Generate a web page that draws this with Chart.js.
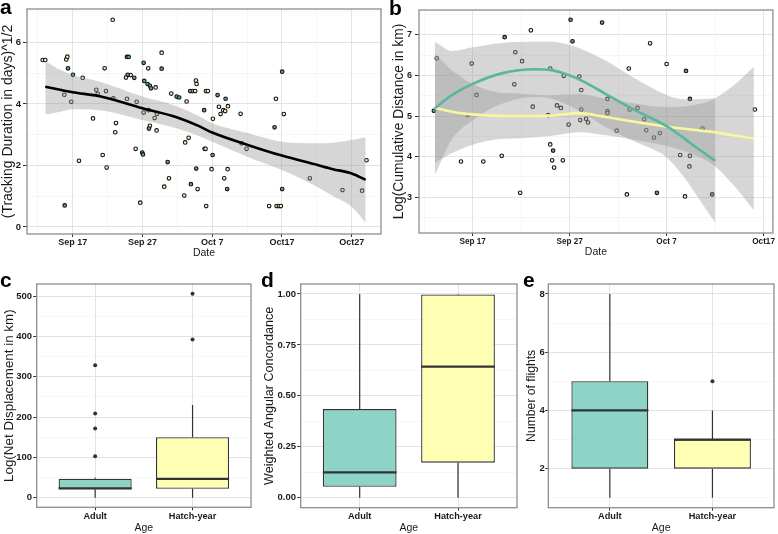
<!DOCTYPE html>
<html>
<head>
<meta charset="utf-8">
<script src="https://cdn.jsdelivr.net/npm/chart.js@4.4.0/dist/chart.umd.min.js"></script>
<style>
body { margin: 0; background: #fff; }
#wrap { position: relative; width: 778px; height: 534px; overflow: hidden; font-family: "Liberation Sans", Arial, sans-serif; }
canvas { position: absolute; }
.tag { position: absolute; font-weight: bold; font-size: 21px; line-height: 21px; color: #000; }
</style>
</head>
<body>
<div id="wrap">
  <canvas id="pa" width="388" height="262" style="left:0;top:0"></canvas>
  <canvas id="pb" width="390" height="262" style="left:388px;top:0"></canvas>
  <canvas id="pc" width="258" height="272" style="left:0;top:262px"></canvas>
  <canvas id="pd" width="262" height="272" style="left:258px;top:262px"></canvas>
  <canvas id="pe" width="258" height="272" style="left:520px;top:262px"></canvas>
  <div class="tag" style="left:0;top:-4px">a</div>
  <div class="tag" style="left:389px;top:-3px">b</div>
  <div class="tag" style="left:0;top:269px">c</div>
  <div class="tag" style="left:261px;top:269px">d</div>
  <div class="tag" style="left:523px;top:269px">e</div>
</div>
<script>
// dates are day numbers counted from Sep 1 (Sep 30 = 30, Oct 7 = 37)

// panel a - tracking duration
var aAdult = [[15.85,0.70],[16.33,5.16],[17.04,4.95],[24.78,5.53],[25.02,5.53],[24.88,4.95],[25.83,4.85],
  [26.97,2.42],[27.07,2.36],[27.17,5.34],[27.26,4.75],[27.74,4.65],[27.93,3.20],[28.07,4.59],[28.22,4.51],
  [29.75,5.15],[30.61,2.11],[31.90,4.24],[32.27,4.21],[33.85,4.42],[33.95,1.39],[34.71,1.90],[35.85,3.80],
  [37.06,2.34],[37.77,4.29],[38.92,4.17],[39.15,1.23],[45.94,3.24],[47.03,5.05],[47.03,1.23]];
var aHatch = [[12.70,5.43],[13.07,5.43],[15.80,4.30],[16.08,5.45],[16.23,5.54],[16.80,4.07],[17.90,2.15],
  [18.43,4.85],[19.91,3.53],[20.38,4.46],[20.58,4.33],[21.30,2.34],[21.58,5.16],[21.77,4.42],[21.87,1.93],
  [22.73,6.74],[22.82,4.18],[23.10,3.08],[23.20,3.38],[24.64,4.86],[24.78,4.17],[25.31,4.94],[26.03,2.54],
  [26.17,4.07],[26.68,0.79],[27.17,3.72],[27.83,5.16],[27.89,3.80],[28.07,3.29],[28.75,3.54],[28.89,4.54],
  [29.03,3.14],[29.08,3.68],[29.75,5.67],[30.12,1.31],[30.80,1.58],[31.13,4.34],[32.99,1.02],[33.13,2.75],
  [33.33,4.08],[33.62,2.90],[34.19,4.42],[34.56,4.42],[34.66,4.76],[34.76,4.65],[34.91,1.23],[35.91,2.54],
  [36.05,2.54],[36.10,4.42],[36.38,4.42],[36.14,0.68],[36.91,1.88],[37.10,3.52],[37.96,3.91],[38.20,3.67],
  [38.58,3.80],[38.72,1.58],[38.86,3.77],[39.21,1.88],[39.25,3.93],[41.07,3.68],[41.21,2.72],[41.93,2.54],
  [45.17,0.68],[46.13,4.17],[46.23,0.68],[46.56,0.68],[46.84,0.68],[47.27,3.67],[51.00,1.58],[55.68,1.20],
  [58.49,1.18],[59.12,2.17]];
var aFitDays = [13.07, 15.2, 17, 20.9, 27, 31.9, 35.2, 37, 42.2, 47, 52, 54.3, 57, 59];
var aFit     = [4.56, 4.46, 4.38, 4.25, 3.86, 3.57, 3.27, 3.07, 2.66, 2.32, 2.02, 1.88, 1.74, 1.53];
var aFitHi   = [5.41, 5.11, 4.94, 4.72, 4.24, 3.93, 3.59, 3.37, 3.05, 2.77, 2.72, 2.74, 2.83, 2.92];
var aFitLo   = [3.66, 3.75, 3.83, 3.80, 3.48, 3.21, 2.95, 2.77, 2.27, 1.85, 1.31, 1.01, 0.66, 0.14];
var aXMajor = [17, 27, 37, 47, 57], aXMinor = [12, 22, 32, 42, 52];
var aXLabels = ['Sep 17', 'Sep 27', 'Oct 7', 'Oct17', 'Oct27'];
var aYMajor = [0, 2, 4, 6], aYMinor = [1, 3, 5, 7], aYLabels = ['0', '2', '4', '6'];

// panel b - cumulative distance
var bAdult = [[13.0,5.13],[20.3,6.94],[25.3,4.15],[27.1,7.37],[27.3,6.84],[30.35,7.30],[36.0,3.11],
  [39.0,6.11],[39.4,5.42],[41.7,3.07]];
var bHatch = [[13.3,6.42],[15.8,3.88],[16.5,5.03],[16.9,6.29],[17.4,5.52],[18.1,3.88],[20.0,4.02],[21.3,5.78],
  [21.4,6.57],[21.9,3.11],[22.1,6.35],[23.0,7.11],[23.2,5.23],[24.8,5.02],[25.0,6.17],[25.0,4.30],[25.2,3.91],
  [25.4,3.73],[25.7,5.26],[26.1,5.20],[26.3,3.91],[26.4,5.99],[26.9,4.79],[28.0,5.97],[28.1,4.90],[28.2,5.64],
  [28.2,5.16],[28.7,4.93],[28.9,4.84],[30.9,5.42],[30.9,5.12],[30.9,5.07],[31.85,4.64],[32.9,3.07],[33.1,6.17],
  [33.2,5.16],[34.0,5.20],[34.7,4.92],[34.9,4.65],[35.3,6.79],[35.7,4.47],[36.3,4.58],[37.0,6.28],[38.4,4.04],
  [38.9,3.02],[39.35,3.76],[39.4,4.02],[40.7,4.69],[46.1,5.16]];
var bAdultDays = [13.1, 14.9, 17, 20, 23.4, 25.1, 27, 28.5, 30.6, 33.7, 37, 38.8, 40.5, 42];
var bAdultFit  = [5.19, 5.52, 5.79, 6.05, 6.15, 6.13, 6.0, 5.84, 5.56, 5.15, 4.75, 4.45, 4.15, 3.9];
var bAdultHi   = [6.83, 6.6, 6.69, 6.8, 6.83, 6.83, 6.75, 6.62, 6.38, 5.93, 5.52, 5.41, 5.42, 5.43];
var bAdultLo   = [3.55, 4.44, 4.89, 5.3, 5.47, 5.43, 5.25, 5.06, 4.74, 4.37, 3.98, 3.49, 2.9, 2.37];
var bHatchDays = [13.1, 15, 17, 19, 22, 25, 28, 30.6, 33.7, 37, 40.5, 42, 44, 46];
var bHatchFit  = [5.2, 5.1, 5.04, 5.01, 5.0, 5.01, 5.07, 4.98, 4.86, 4.74, 4.64, 4.6, 4.52, 4.45];
var bHatchHi   = [6.55, 6.1, 5.79, 5.61, 5.55, 5.51, 5.54, 5.43, 5.31, 5.22, 5.3, 5.44, 5.77, 6.22];
var bHatchLo   = [3.85, 4.1, 4.29, 4.41, 4.45, 4.51, 4.6, 4.53, 4.41, 4.26, 3.98, 3.76, 3.27, 2.68];
var bXMajor = [17, 27, 37, 47], bXMinor = [12, 22, 32, 42];
var bXLabels = ['Sep 17', 'Sep 27', 'Oct 7', 'Oct17'];
var bYMajor = [3, 4, 5, 6, 7], bYMinor = [2.5, 3.5, 4.5, 5.5, 6.5, 7.5], bYLabels = ['3', '4', '5', '6', '7'];

// boxplots c, d, e  (Adult, Hatch-year)
var boxCats = ['Adult', 'Hatch-year'];
var cLow = [0, 0], cQ1 = [21, 22], cMed = [23, 47], cQ3 = [47, 150], cHigh = [50, 230];
var cOut = [[103, 172, 209, 329], [393, 506]];
var cYMajor = [0, 100, 200, 300, 400, 500], cYMinor = [50, 150, 250, 350, 450];
var cYLabels = ['0', '100', '200', '300', '400', '500'];
var dLow = [0, 0], dQ1 = [0.054, 0.172], dMed = [0.124, 0.643], dQ3 = [0.435, 0.998], dHigh = [1, 1];
var dOut = [[], []];
var dYMajor = [0, 0.25, 0.5, 0.75, 1], dYMinor = [0.125, 0.375, 0.625, 0.875];
var dYLabels = ['0.00', '0.25', '0.50', '0.75', '1.00'];
var eLow = [1, 1], eQ1 = [2, 2], eMed = [4, 3], eQ3 = [5, 3], eHigh = [8, 4];
var eOut = [[], [5]];
var eYMajor = [2, 4, 6, 8], eYMinor = [1, 3, 5, 7], eYLabels = ['2', '4', '6', '8'];

var FONT = '"Liberation Sans", Arial, sans-serif';
var teal = '#8dd3c7', pale = '#ffffb3';
var ptTeal = '#5aa597', ptPale = '#fbfbc4';
var ribbon = 'rgba(153,153,153,0.4)';

function pts(xs, ys) {
  return xs.map(function(x, i) { return {x: x, y: ys[i]}; });
}
function pairs(arr) {
  return arr.map(function(p) { return {x: p[0], y: p[1]}; });
}

function fitLine(xs, ys, color, w) {
  return {type: 'line', data: pts(xs, ys), borderColor: color, borderWidth: w, pointRadius: 0,
    cubicInterpolationMode: 'monotone', fill: false, order: 0};
}
// upper edge fills down to the next dataset (lower edge)
function bandHi(xs, ys) {
  return {type: 'line', data: pts(xs, ys), borderColor: 'rgba(0,0,0,0)', borderWidth: 1, pointRadius: 0,
    cubicInterpolationMode: 'monotone', fill: '+1', backgroundColor: ribbon, order: 1};
}
function bandLo(xs, ys) {
  return {type: 'line', data: pts(xs, ys), borderColor: 'rgba(0,0,0,0)', borderWidth: 1, pointRadius: 0,
    cubicInterpolationMode: 'monotone', fill: false, order: 1};
}
function dots(arr, color) {
  return {type: 'scatter', data: pairs(arr), backgroundColor: color, borderColor: '#111',
    borderWidth: 1.1, pointRadius: 1.8, order: 3};
}
function seg(xs, ys, w) {
  return {type: 'line', data: pts(xs, ys), borderColor: '#333', borderWidth: w, pointRadius: 0,
    fill: false, order: 1};
}

function boxSets(lo, q1, med, q3, hi, outs) {
  var sets = [{
    type: 'bar',
    data: boxCats.map(function(c, i) { return {x: i + 1, y: [q1[i], q3[i]]}; }),
    backgroundColor: [teal, pale], borderColor: '#333', borderWidth: 1.3, borderSkipped: false,
    barPercentage: 0.75, categoryPercentage: 1, order: 3
  }];
  boxCats.forEach(function(c, i) {
    var x = i + 1;
    sets.push(seg([x, x], [lo[i], q1[i]], 1.2));
    sets.push(seg([x, x], [q3[i], hi[i]], 1.2));
    var m = seg([x - 0.375, x + 0.375], [med[i], med[i]], 2.2);
    m.order = 0;
    sets.push(m);
    sets.push({type: 'scatter', data: outs[i].map(function(v) { return {x: x, y: v}; }),
      pointRadius: 2, backgroundColor: '#333', borderWidth: 0, order: 0});
  });
  return sets;
}

function makeScale(o) {
  var all = o.major.concat(o.minor || []).sort(function(p, q) { return p - q; });
  function isMajor(c) { return c.tick && o.major.indexOf(c.tick.value) >= 0; }
  return {
    type: 'linear', min: o.min, max: o.max, bounds: 'data', offset: false,
    afterBuildTicks: function(s) { s.ticks = all.map(function(v) { return {value: v}; }); },
    afterFit: function(s) {
      if (o.width) s.width = o.width;
      if (o.height) s.height = o.height;
      s.paddingLeft = 0; s.paddingRight = 0; s.paddingTop = 0; s.paddingBottom = 0;
    },
    ticks: {
      autoSkip: false, maxRotation: 0, padding: o.pad, color: '#1a1a1a',
      font: {family: FONT, size: o.tickSize, weight: 'bold'},
      callback: function(v) { var i = o.major.indexOf(v); return i < 0 ? '' : o.labels[i]; }
    },
    grid: {
      offset: false,
      color: function(c) { return isMajor(c) ? '#e3e3e3' : '#f2f2f2'; },
      lineWidth: function(c) { return isMajor(c) ? 1 : 0.7; },
      tickLength: o.tl,
      tickColor: function(c) { return isMajor(c) ? '#333' : 'rgba(0,0,0,0)'; },
      tickWidth: 1
    },
    border: {display: false},
    title: {display: true, text: o.title, color: '#1a1a1a',
      font: {family: FONT, size: o.titleSize, lineHeight: 1},
      padding: {top: o.tpTop || 0, bottom: o.tpBottom || 0}}
  };
}

// grey panel border
var frame = {
  id: 'frame',
  afterDraw: function(chart) {
    var a = chart.chartArea, ctx = chart.ctx;
    ctx.save();
    ctx.strokeStyle = '#8e8e8e';
    ctx.lineWidth = 1.3;
    ctx.strokeRect(a.left, a.top, a.right - a.left, a.bottom - a.top);
    ctx.restore();
  }
};

function makeChart(id, sets, xs, ys, pad) {
  return new Chart(document.getElementById(id), {
    type: 'scatter',
    data: {datasets: sets},
    options: {
      responsive: false, animation: false, devicePixelRatio: 1, events: [],
      layout: {padding: pad},
      plugins: {legend: {display: false}, tooltip: {enabled: false}},
      scales: {x: xs, y: ys}
    },
    plugins: [frame]
  });
}

// a
makeChart('pa', [
  fitLine(aFitDays, aFit, '#000', 2.6),
  bandHi(aFitDays, aFitHi), bandLo(aFitDays, aFitLo),
  dots(aAdult, ptTeal), dots(aHatch, ptPale)
],
  makeScale({min: 10.45, max: 61.2, major: aXMajor, minor: aXMinor, labels: aXLabels, height: 28,
    tl: 3, pad: 0, tickSize: 9, title: 'Date', titleSize: 10.5, tpBottom: 3.4}),
  makeScale({min: -0.23, max: 7.09, major: aYMajor, minor: aYMinor, labels: aYLabels, width: 27,
    tl: 4, pad: 2, tickSize: 9.5, title: '(Tracking Duration in days)^1/2', titleSize: 14, tpTop: 1.5}),
  {left: 0, top: 9, right: 7, bottom: 0});

// b
makeChart('pb', [
  fitLine(bAdultDays, bAdultFit, '#58b7a0', 2.6),
  fitLine(bHatchDays, bHatchFit, '#f7f79c', 2.6),
  bandHi(bAdultDays, bAdultHi), bandLo(bAdultDays, bAdultLo),
  bandHi(bHatchDays, bHatchHi), bandLo(bHatchDays, bHatchLo),
  dots(bAdult, ptTeal), dots(bHatch, ptPale)
],
  makeScale({min: 11.47, max: 47.96, major: bXMajor, minor: bXMinor, labels: bXLabels, height: 29,
    tl: 3, pad: 1, tickSize: 8.2, title: 'Date', titleSize: 10.5, tpBottom: 4.4}),
  makeScale({min: 2.12, max: 7.61, major: bYMajor, minor: bYMinor, labels: bYLabels, width: 31,
    tl: 4, pad: 3, tickSize: 9, title: 'Log(Cumulative Distance in km)', titleSize: 13.8, tpTop: 4.6}),
  {left: 0, top: 10, right: 2.3, bottom: 0});

// c, d, e
function boxX(w) {
  return makeScale({min: 0.4, max: 2.6, major: [1, 2], minor: [], labels: boxCats, height: w,
    tl: 3, pad: 0.5, tickSize: 9.2, title: 'Age', titleSize: 10.5, tpBottom: 1});
}
makeChart('pc', boxSets(cLow, cQ1, cMed, cQ3, cHigh, cOut), boxX(26.7),
  makeScale({min: -23.8, max: 530.5, major: cYMajor, minor: cYMinor, labels: cYLabels, width: 36.7,
    tl: 3.5, pad: 1.2, tickSize: 9.5, title: 'Log(Net Displacement in km)', titleSize: 13.4, tpTop: 2.6}),
  {left: 0, top: 22, right: 7, bottom: 0});
makeChart('pd', boxSets(dLow, dQ1, dMed, dQ3, dHigh, dOut), boxX(26.3),
  makeScale({min: -0.049, max: 1.049, major: dYMajor, minor: dYMinor, labels: dYLabels, width: 42.7,
    tl: 3.5, pad: 1.2, tickSize: 9.5, title: 'Weighted Angular Concordance', titleSize: 12.6, tpTop: 5}),
  {left: 0, top: 22, right: 3, bottom: 0});
makeChart('pe', boxSets(eLow, eQ1, eMed, eQ3, eHigh, eOut), boxX(26.3),
  makeScale({min: 0.66, max: 8.34, major: eYMajor, minor: eYMinor, labels: eYLabels, width: 28.3,
    tl: 3, pad: 0.4, tickSize: 9.5, title: 'Number of flights', titleSize: 12.2, tpTop: 5.6}),
  {left: 0, top: 22, right: 2, bottom: 0});
</script>
</body>
</html>
